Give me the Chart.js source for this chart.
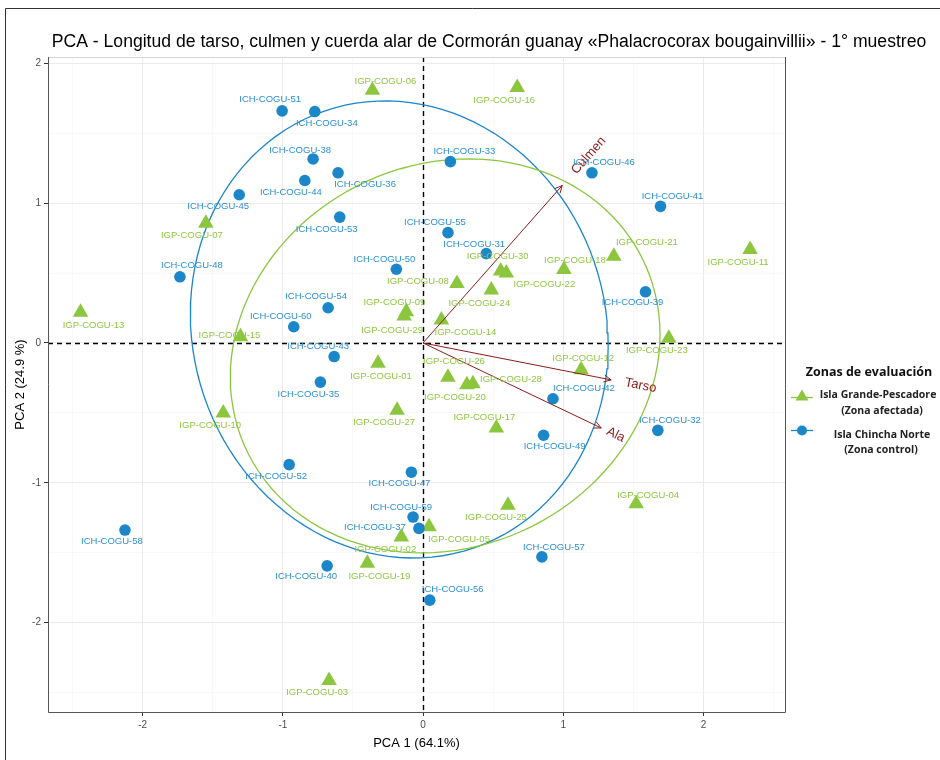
<!DOCTYPE html>
<html>
<head>
<meta charset="utf-8">
<script src="https://cdn.jsdelivr.net/npm/chart.js@4.4.0/dist/chart.umd.min.js"></script>
<style>
  html, body { margin: 0; padding: 0; background: #fff; }
  #wrap { position: relative; width: 940px; height: 760px; }
</style>
</head>
<body>
<div id="wrap"><canvas id="pca"></canvas></div>
<script>
// individual scores, Isla Grande-Pescadore (zona afectada)
const igpNames = ['IGP-COGU-01','IGP-COGU-02','IGP-COGU-03','IGP-COGU-04','IGP-COGU-05','IGP-COGU-06',
  'IGP-COGU-07','IGP-COGU-08','IGP-COGU-09','IGP-COGU-10','IGP-COGU-11','IGP-COGU-12','IGP-COGU-13',
  'IGP-COGU-14','IGP-COGU-15','IGP-COGU-16','IGP-COGU-17','IGP-COGU-18','IGP-COGU-19','IGP-COGU-20',
  'IGP-COGU-21','IGP-COGU-22','IGP-COGU-23','IGP-COGU-24','IGP-COGU-25','IGP-COGU-26','IGP-COGU-27',
  'IGP-COGU-28','IGP-COGU-29','IGP-COGU-30'];
const igpPC1 = [-0.321, -0.155, -0.670, 1.520, 0.043, -0.361, -1.549, 0.242, -0.119, -1.425, 2.333, 1.128,
  -2.443, 0.131, -1.302, 0.672, 0.523, 1.005, -0.397, 0.313, 1.361, 0.594, 1.753, 0.487, 0.606, 0.178,
  -0.185, 0.356, -0.135, 0.554];
const igpPC2 = [-0.145, -1.388, -2.414, -1.150, -1.314, 1.808, 0.857, 0.425, 0.223, -0.501, 0.668, -0.192,
  0.219, 0.164, 0.045, 1.827, -0.608, 0.525, -1.575, -0.299, 0.620, 0.501, 0.033, 0.378, -1.160, -0.245,
  -0.482, -0.292, 0.192, 0.515];

// individual scores, Isla Chincha Norte (zona control)
const ichNames = ['ICH-COGU-31','ICH-COGU-32','ICH-COGU-33','ICH-COGU-34','ICH-COGU-35','ICH-COGU-36',
  'ICH-COGU-37','ICH-COGU-38','ICH-COGU-39','ICH-COGU-40','ICH-COGU-41','ICH-COGU-42','ICH-COGU-43',
  'ICH-COGU-44','ICH-COGU-45','ICH-COGU-46','ICH-COGU-47','ICH-COGU-48','ICH-COGU-49','ICH-COGU-50',
  'ICH-COGU-51','ICH-COGU-52','ICH-COGU-53','ICH-COGU-54','ICH-COGU-55','ICH-COGU-56','ICH-COGU-57',
  'ICH-COGU-58','ICH-COGU-59','ICH-COGU-60'];
const ichPC1 = [0.451, 1.675, 0.195, -0.772, -0.732, -0.606, -0.029, -0.784, 1.587, -0.684, 1.694, 0.927,
  -0.634, -0.843, -1.311, 1.205, -0.083, -1.734, 0.860, -0.190, -1.005, -0.955, -0.594, -0.677, 0.178,
  0.048, 0.848, -2.126, -0.071, -0.922];
const ichPC2 = [0.639, -0.625, 1.297, 1.655, -0.280, 1.217, -1.326, 1.316, 0.366, -1.594, 0.977, -0.399,
  -0.097, 1.162, 1.060, 1.217, -0.924, 0.473, -0.660, 0.527, 1.660, -0.870, 0.900, 0.252, 0.789, -1.839,
  -1.530, -1.338, -1.245, 0.116];

// variable loadings (arrows)
const varNames = ['Culmen', 'Tarso', 'Ala'];
const varPC1 = [0.993, 1.342, 1.271];
const varPC2 = [1.126, -0.264, -0.608];

const xBreaks = [-2, -1, 0, 1, 2];
const yBreaks = [-2, -1, 0, 1, 2];
const ellipseLevel = 0.67;

// repelled label placement, pixel offsets from each point
const labelNudge = {
  'IGP-COGU-01': [3, 13], 'IGP-COGU-02': [-16, 12], 'IGP-COGU-03': [-12, 12], 'IGP-COGU-04': [12, -8],
  'IGP-COGU-05': [30, 13], 'IGP-COGU-06': [13, -9], 'IGP-COGU-07': [-14, 12], 'IGP-COGU-08': [-39, -2],
  'IGP-COGU-09': [-12, -9], 'IGP-COGU-10': [-13, 12], 'IGP-COGU-11': [-12, 13], 'IGP-COGU-12': [2, -11],
  'IGP-COGU-13': [13, 13], 'IGP-COGU-14': [24, 12], 'IGP-COGU-15': [-11, -1], 'IGP-COGU-16': [-13, 13],
  'IGP-COGU-17': [-12, -11], 'IGP-COGU-18': [11, -9], 'IGP-COGU-19': [12, 13], 'IGP-COGU-20': [-12, 13],
  'IGP-COGU-21': [33, -14], 'IGP-COGU-22': [38, 11], 'IGP-COGU-23': [-12, 12], 'IGP-COGU-24': [-12, 13],
  'IGP-COGU-25': [-12, 12], 'IGP-COGU-26': [6, -16], 'IGP-COGU-27': [-13, 12], 'IGP-COGU-28': [38, -4],
  'IGP-COGU-29': [-12, 14], 'IGP-COGU-30': [-3, -15],
  'ICH-COGU-31': [-12, -9], 'ICH-COGU-32': [12, -10], 'ICH-COGU-33': [14, -10], 'ICH-COGU-34': [12, 12],
  'ICH-COGU-35': [-12, 12], 'ICH-COGU-36': [27, 12], 'ICH-COGU-37': [-44, -1], 'ICH-COGU-38': [-13, -9],
  'ICH-COGU-39': [-13, 11], 'ICH-COGU-40': [-21, 11], 'ICH-COGU-41': [12, -10], 'ICH-COGU-42': [31, -10],
  'ICH-COGU-43': [-16, -10], 'ICH-COGU-44': [-14, 12], 'ICH-COGU-45': [-21, 12], 'ICH-COGU-46': [12, -10],
  'ICH-COGU-47': [-12, 11], 'ICH-COGU-48': [12, -11], 'ICH-COGU-49': [11, 11], 'ICH-COGU-50': [-12, -10],
  'ICH-COGU-51': [-12, -11], 'ICH-COGU-52': [-13, 12], 'ICH-COGU-53': [-13, 12], 'ICH-COGU-54': [-12, -11],
  'ICH-COGU-55': [-13, -10], 'ICH-COGU-56': [23, -11], 'ICH-COGU-57': [12, -10], 'ICH-COGU-58': [-13, 11],
  'ICH-COGU-59': [-12, -10], 'ICH-COGU-60': [-13, -10]
};
// distance (px) from arrow tip to the centre of its label
const varLabelGap = [40, 30, 16];

const GREEN = '#8cc63f';
const BLUE = '#1b86c8';
const ARROW = '#8b1a1a';

function pts(xs, ys) {
  return xs.map((x, i) => ({ x: x, y: ys[i] }));
}

// stat_ellipse style: sample covariance, radius from F(2, n-1)
function ellipse(xs, ys, level) {
  const n = xs.length;
  const mx = xs.reduce((a, b) => a + b, 0) / n;
  const my = ys.reduce((a, b) => a + b, 0) / n;
  let sxx = 0, syy = 0, sxy = 0;
  for (let i = 0; i < n; i++) {
    sxx += (xs[i] - mx) ** 2;
    syy += (ys[i] - my) ** 2;
    sxy += (xs[i] - mx) * (ys[i] - my);
  }
  sxx /= n - 1; syy /= n - 1; sxy /= n - 1;
  const d2 = n - 1;
  const qf = d2 / 2 * (Math.pow(1 - level, -2 / d2) - 1);
  const r = Math.sqrt(2 * qf);
  // cholesky of the covariance
  const a = Math.sqrt(sxx), b = sxy / a, c = Math.sqrt(syy - b * b);
  const out = [];
  for (let k = 0; k <= 120; k++) {
    const t = 2 * Math.PI * k / 120;
    const u = Math.cos(t), v = Math.sin(t);
    out.push({ x: mx + r * (u * a), y: my + r * (u * b + v * c) });
  }
  return out;
}

const arrowSets = varNames.map((name, i) => ({
  label: name,
  data: [{ x: 0, y: 0 }, { x: varPC1[i], y: varPC2[i] }],
  showLine: true, borderColor: ARROW, borderWidth: 1, pointRadius: 0, order: 1
}));

const pcaDecor = {
  id: 'pcaDecor',
  beforeDatasetsDraw(chart) {
    const { ctx, chartArea: ca, scales: { x, y } } = chart;
    ctx.save();
    ctx.strokeStyle = '#000';
    ctx.lineWidth = 1.4;
    ctx.setLineDash([5, 4]);
    const x0 = Math.round(x.getPixelForValue(0)) + 0.5;
    const y0 = Math.round(y.getPixelForValue(0)) + 0.5;
    ctx.beginPath();
    ctx.moveTo(x0, ca.top); ctx.lineTo(x0, ca.bottom);
    ctx.moveTo(ca.left, y0); ctx.lineTo(ca.right, y0);
    ctx.stroke();
    ctx.restore();
  },
  afterDatasetsDraw(chart) {
    const { ctx, scales: { x, y } } = chart;
    ctx.save();
    // arrow heads and variable names
    varNames.forEach((name, i) => {
      const px = x.getPixelForValue(varPC1[i]);
      const py = y.getPixelForValue(varPC2[i]);
      const ang = Math.atan2(py - y.getPixelForValue(0), px - x.getPixelForValue(0));
      const len = 8, spread = Math.PI / 7;
      ctx.strokeStyle = ARROW;
      ctx.lineWidth = 1;
      ctx.beginPath();
      ctx.moveTo(px - len * Math.cos(ang - spread), py - len * Math.sin(ang - spread));
      ctx.lineTo(px, py);
      ctx.lineTo(px - len * Math.cos(ang + spread), py - len * Math.sin(ang + spread));
      ctx.stroke();
      const g = varLabelGap[i];
      ctx.save();
      ctx.translate(px + g * Math.cos(ang), py + g * Math.sin(ang));
      ctx.rotate(ang);
      ctx.fillStyle = ARROW;
      ctx.font = '13px "Liberation Sans", Arial, sans-serif';
      ctx.textAlign = 'center';
      ctx.textBaseline = 'middle';
      ctx.fillText(name, 0, 0);
      ctx.restore();
    });
    // point labels
    ctx.font = '9.5px "Liberation Sans", Arial, sans-serif';
    ctx.textAlign = 'center';
    ctx.textBaseline = 'middle';
    const put = (names, xs, ys, col) => {
      ctx.fillStyle = col;
      names.forEach((nm, i) => {
        const off = labelNudge[nm] || [0, -12];
        ctx.fillText(nm, x.getPixelForValue(xs[i]) + off[0], y.getPixelForValue(ys[i]) + off[1]);
      });
    };
    put(igpNames, igpPC1, igpPC2, '#8fc743');
    put(ichNames, ichPC1, ichPC2, '#2c8fd3');
    ctx.restore();
  },
  afterDraw(chart) {
    const { ctx, chartArea: ca } = chart;
    ctx.save();
    // panel border
    ctx.lineWidth = 1;
    ctx.strokeStyle = '#d6d6d6';
    ctx.beginPath();
    ctx.moveTo(ca.left, ca.top + 0.5); ctx.lineTo(ca.right, ca.top + 0.5);
    ctx.stroke();
    ctx.strokeStyle = '#555';
    ctx.beginPath();
    ctx.moveTo(ca.left + 0.5, ca.top); ctx.lineTo(ca.left + 0.5, ca.bottom + 0.5);
    ctx.lineTo(ca.right + 0.5, ca.bottom + 0.5); ctx.lineTo(ca.right + 0.5, ca.top);
    ctx.stroke();
    // outer frame
    ctx.strokeStyle = '#333';
    ctx.beginPath();
    ctx.moveTo(5.5, 760); ctx.lineTo(5.5, 8.5); ctx.lineTo(940, 8.5);
    ctx.stroke();

    // title
    ctx.fillStyle = '#000';
    ctx.textAlign = 'center';
    ctx.textBaseline = 'middle';
    ctx.font = '17.6px "Liberation Sans", Arial, sans-serif';
    ctx.fillText('PCA - Longitud de tarso, culmen y cuerda alar de Cormorán guanay «Phalacrocorax bougainvillii» - 1° muestreo', 489, 42);

    // axis titles
    ctx.font = '13px "Liberation Sans", Arial, sans-serif';
    ctx.fillText('PCA 1 (64.1%)', (ca.left + ca.right) / 2, 743);
    ctx.save();
    ctx.translate(20, (ca.top + ca.bottom) / 2);
    ctx.rotate(-Math.PI / 2);
    ctx.fillText('PCA 2 (24.9 %)', 0, 0);
    ctx.restore();

    // legend
    ctx.font = 'bold 12.5px "Open Sans", "Noto Sans", sans-serif';
    ctx.fillStyle = '#111';
    ctx.fillText('Zonas de evaluación', 869, 372);
    ctx.font = 'bold 10.5px "Open Sans", "Noto Sans", sans-serif';
    ctx.fillStyle = '#222';
    ctx.fillText('Isla Grande-Pescadore', 878, 395);
    ctx.fillText('(Zona afectada)', 882, 411);
    ctx.fillText('Isla Chincha Norte', 882, 435);
    ctx.fillText('(Zona control)', 881, 450);
    // keys
    ctx.lineWidth = 1.3;
    ctx.strokeStyle = GREEN;
    ctx.beginPath(); ctx.moveTo(791, 397.5); ctx.lineTo(813, 397.5); ctx.stroke();
    ctx.fillStyle = GREEN;
    ctx.beginPath();
    ctx.moveTo(802, 389.5); ctx.lineTo(808.5, 400.5); ctx.lineTo(795.5, 400.5); ctx.closePath();
    ctx.fill();
    ctx.strokeStyle = BLUE;
    ctx.beginPath(); ctx.moveTo(791, 430.5); ctx.lineTo(813, 430.5); ctx.stroke();
    ctx.fillStyle = BLUE;
    ctx.beginPath(); ctx.arc(802, 430.5, 5, 0, Math.PI * 2); ctx.fill();
    ctx.restore();
  }
};

const gridOpts = {
  color: c => Number.isInteger(c.tick.value) ? '#ebebeb' : '#f3f3f3',
  lineWidth: c => Number.isInteger(c.tick.value) ? 1 : 0.6,
  tickColor: c => Number.isInteger(c.tick.value) ? '#333' : 'rgba(0,0,0,0)',
  tickLength: 4,
  drawTicks: true
};

new Chart(document.getElementById('pca'), {
  type: 'scatter',
  data: {
    datasets: [
      { label: 'elipse IGP', data: ellipse(igpPC1, igpPC2, ellipseLevel), showLine: true,
        borderColor: GREEN, borderWidth: 1.3, pointRadius: 0, order: 3 },
      { label: 'elipse ICH', data: ellipse(ichPC1, ichPC2, ellipseLevel), showLine: true,
        borderColor: BLUE, borderWidth: 1.3, pointRadius: 0, order: 3 },
      { label: 'Isla Chincha Norte', data: pts(ichPC1, ichPC2), pointStyle: 'circle', pointRadius: 5.8,
        backgroundColor: BLUE, borderWidth: 0, order: 2 },
      { label: 'Isla Grande-Pescadore', data: pts(igpPC1, igpPC2), pointStyle: 'triangle', pointRadius: 9,
        backgroundColor: GREEN, borderWidth: 0, order: 2 },
      ...arrowSets
    ]
  },
  options: {
    responsive: true,
    maintainAspectRatio: false,
    animation: false,
    events: [],
    layout: { padding: { left: 0, right: 155, top: 57, bottom: 0 } },
    plugins: { legend: { display: false }, tooltip: { enabled: false } },
    scales: {
      x: {
        type: 'linear', min: -2.675, max: 2.582,
        grid: gridOpts,
        border: { display: false },
        ticks: {
          stepSize: 0.5, includeBounds: false, autoSkip: false, maxRotation: 0, padding: 3,
          color: '#4d4d4d', font: { family: '"Liberation Sans", Arial, sans-serif', size: 10 },
          callback: v => xBreaks.includes(v) ? String(v) : ''
        },
        afterFit: s => { s.height = 48; }
      },
      y: {
        type: 'linear', min: -2.639, max: 2.045,
        grid: gridOpts,
        border: { display: false },
        ticks: {
          stepSize: 0.5, includeBounds: false, autoSkip: false, padding: 3,
          color: '#4d4d4d', font: { family: '"Liberation Sans", Arial, sans-serif', size: 10 },
          callback: v => yBreaks.includes(v) ? String(v) : ''
        },
        afterFit: s => { s.width = 48; }
      }
    }
  },
  plugins: [pcaDecor]
});
</script>
</body>
</html>
